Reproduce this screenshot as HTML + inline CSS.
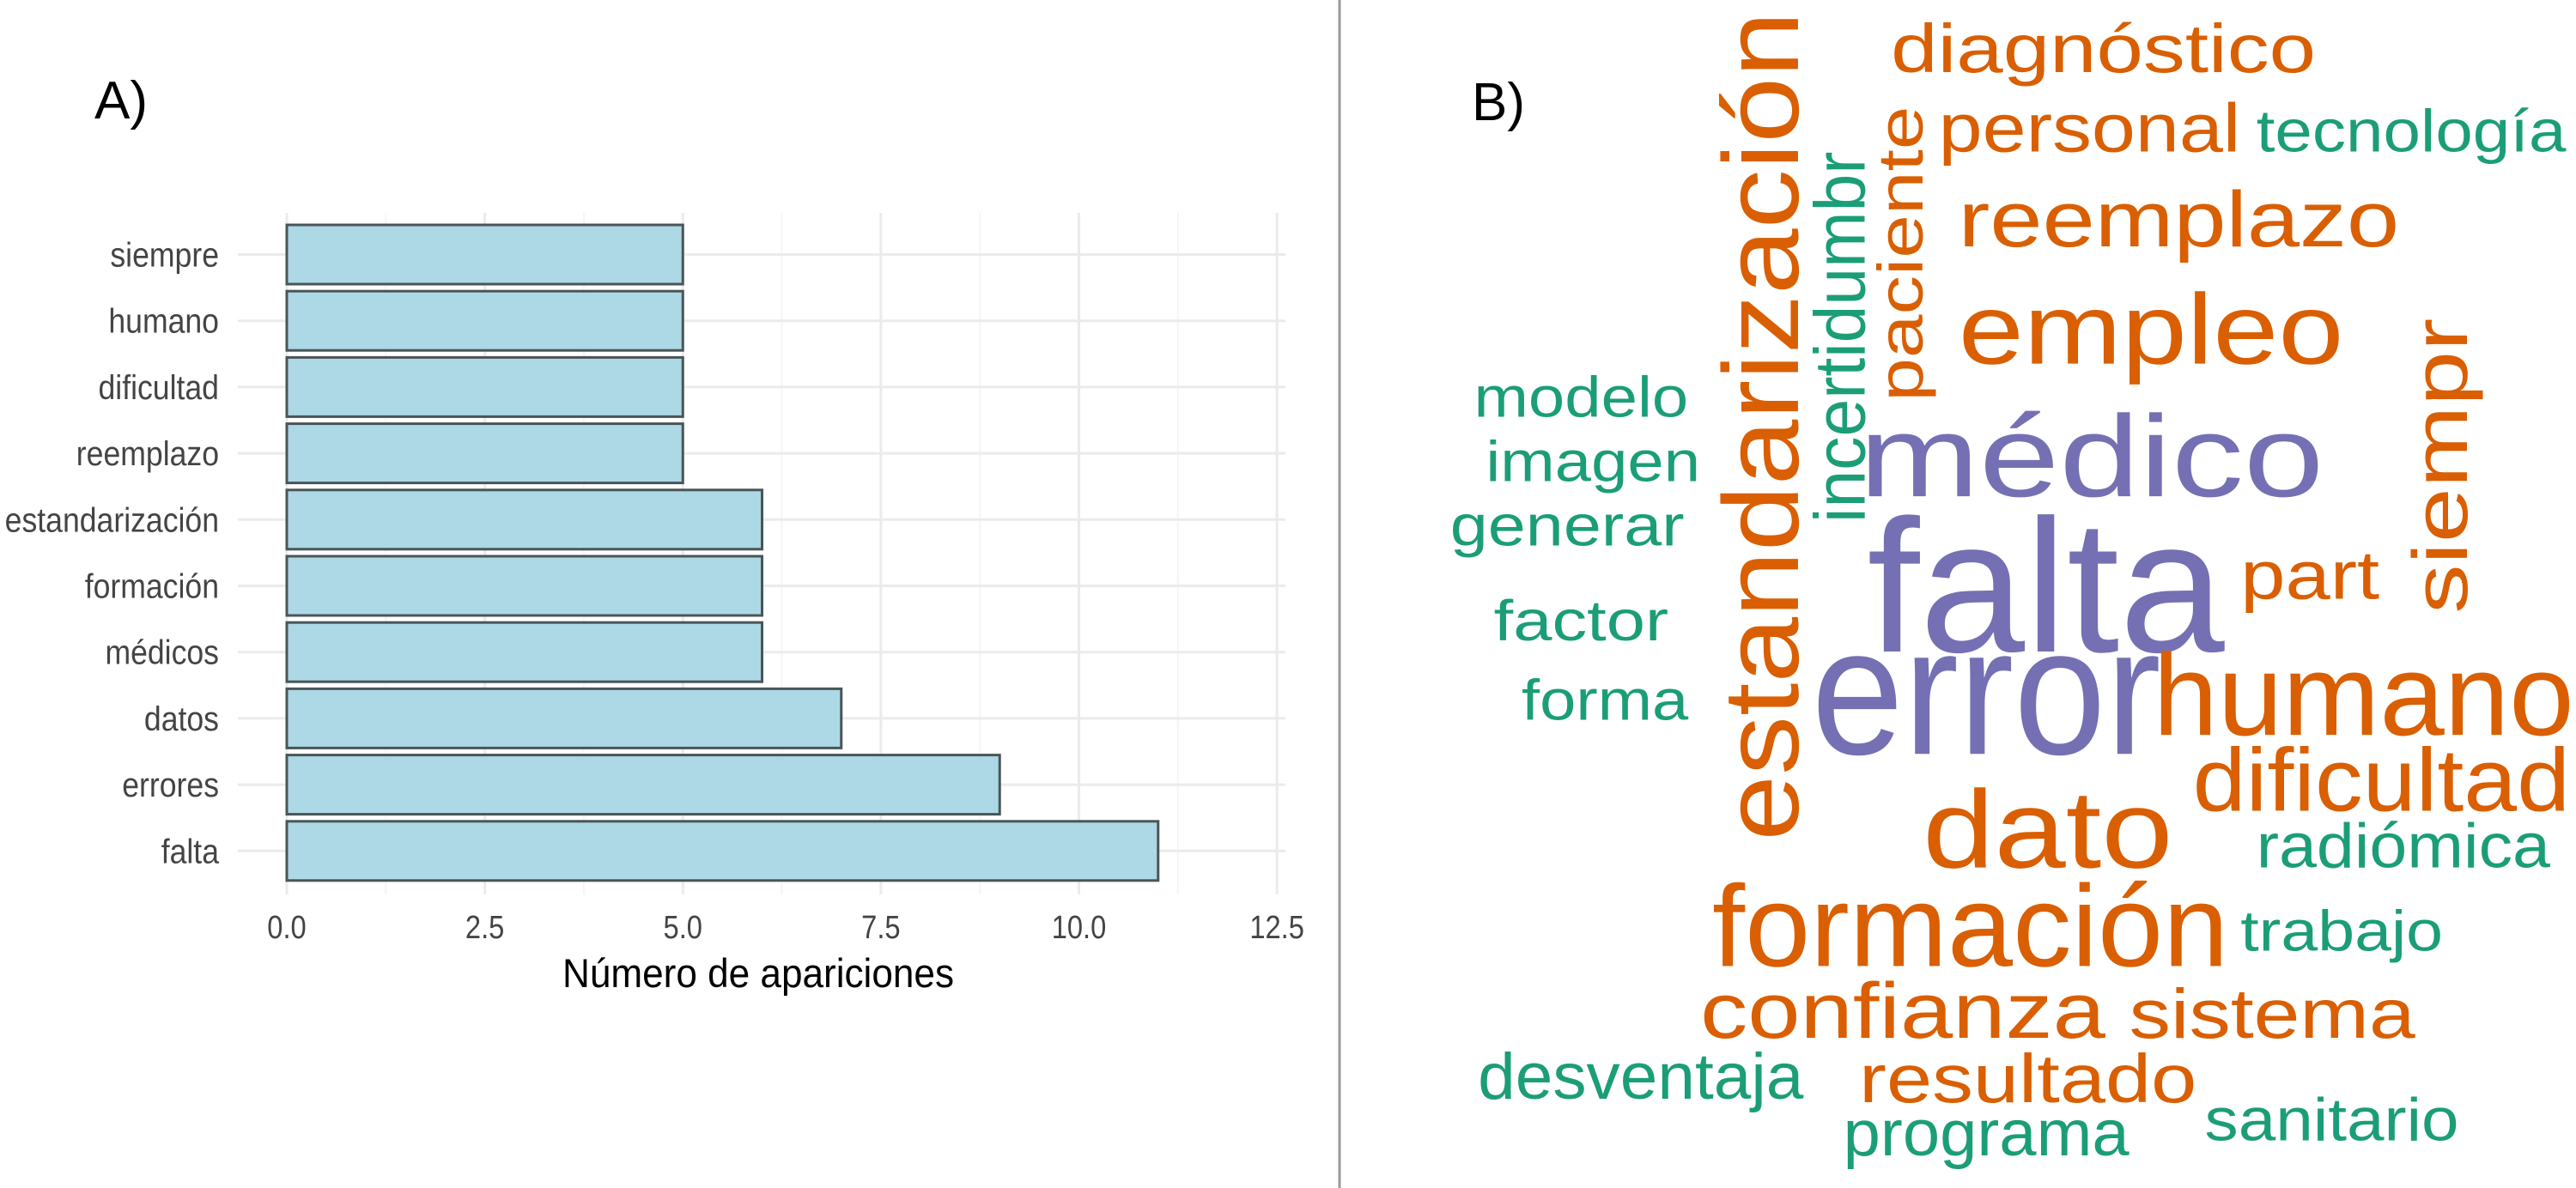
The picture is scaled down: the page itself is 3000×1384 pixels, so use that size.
<!DOCTYPE html>
<html><head><meta charset="utf-8"><style>
html,body{margin:0;padding:0;background:#fff;}
svg{display:block;}
</style></head><body>
<svg id="fig" xmlns="http://www.w3.org/2000/svg" width="3000" height="1384" viewBox="0 0 3000 1384" font-family="Liberation Sans, Arial, sans-serif">
<rect x="0" y="0" width="3000" height="1384" fill="#fff"/>
<text x="110" y="138" font-family="Liberation Sans, sans-serif" font-size="62" fill="#000">A)</text>
<text x="1714" y="140" font-family="Liberation Sans, sans-serif" font-size="62" fill="#000">B)</text>
<line x1="1560" y1="0" x2="1560" y2="1384" stroke="#9a9a9a" stroke-width="3"/>
<g id="grid"></g>
<g id="bars"></g>
<g id="ylabels"></g>
<g id="xlabels"></g>
<text x="883" y="1150" text-anchor="middle" font-size="47" fill="#000" textLength="456" lengthAdjust="spacingAndGlyphs">Número de apariciones</text>
<g id="cloud"></g>
</svg>
<script>
const categories = ["siempre","humano","dificultad","reemplazo","estandarización","formación","médicos","datos","errores","falta"];
const values = [5,5,5,5,6,6,6,7,9,11];
const tickValues = [0,2.5,5,7.5,10,12.5];
const tickLabels = ["0.0","2.5","5.0","7.5","10.0","12.5"];

const NS = "http://www.w3.org/2000/svg";
const X0 = 334, UNIT = 92.25;
const xScale = v => X0 + v * UNIT;
const BAND_TOP = 262, PITCH = 77.2, BAR_H = 69;
const yScale = i => BAND_TOP + i * PITCH;
const PANEL_L = 277, PANEL_R = 1497, PANEL_T = 248, PANEL_B = 1042;
function mk(tag, attrs, parent){const e=document.createElementNS(NS,tag);for(const k in attrs)e.setAttribute(k,attrs[k]);parent.appendChild(e);return e;}

const grid = document.getElementById('grid');
for (let v = 0; v <= 12.5 + 1e-9; v += 1.25) {
  const major = Math.abs(v/2.5 - Math.round(v/2.5)) < 1e-6;
  const l = mk('line',{x1:xScale(v),x2:xScale(v),y1:PANEL_T,y2:PANEL_B,stroke:major?'#ebebeb':'#f5f5f5','stroke-width':major?3:2},grid);
  
  
}
categories.forEach((c,i)=>{
  const cy = yScale(i) + BAR_H/2;
  const l = mk('line',{x1:PANEL_L,x2:PANEL_R,y1:cy,y2:cy,stroke:'#ebebeb','stroke-width':3},grid);
  
  
});
const bars = document.getElementById('bars');
values.forEach((v,i)=>{
  const r = mk('rect',{x:xScale(0),y:yScale(i),width:xScale(v)-xScale(0),height:BAR_H,fill:'#ADD8E6',stroke:'#4a5558','stroke-width':3},bars);
  
  
});
const yl = document.getElementById('ylabels');
categories.forEach((c,i)=>{
  const t = mk('text',{x:255,y:yScale(i)+BAR_H/2+14,'text-anchor':'end','font-size':40,fill:'#444'},yl);
  t.textContent = c;
  t.setAttribute('transform', `translate(255 0) scale(0.89 1) translate(-255 0)`);
  
  
});
const xl = document.getElementById('xlabels');
tickValues.forEach((v,i)=>{
  const x = xScale(v);
  const t = mk('text',{x:x,y:1093,'text-anchor':'middle','font-size':38,fill:'#444',transform:`translate(${x} 0) scale(0.86 1) translate(${-x} 0)`},xl);
  t.textContent = tickLabels[i];
  
  
});

// word cloud: [word, x0, x1, baseline, size, color, rotated]  (measured in zoom units)
const O='#D95F02', G='#1B9E77', P='#7570B3';
const words = [
 ["diagnóstico",705,1240,95,90,O,0],
 ["personal",765,1145,200,90,O,0],
 ["tecnología",1165,1555,200,79,G,0],
 ["reemplazo",790,1345,325,104,O,0],
 ["empleo",790,1275,480,132,O,0],
 ["médico",665,1250,655,153,P,0],
 ["falta",675,1125,860,250,P,0],
 ["error",605,1045,995,240,P,0],
 ["humano",1035,1565,970,153,O,0],
 ["dificultad",1085,1560,1070,118,O,0],
 ["dato",745,1060,1145,146,O,0],
 ["radiómica",1165,1535,1145,83,G,0],
 ["formación",480,1130,1275,153,O,0],
 ["trabajo",1145,1400,1255,76,G,0],
 ["confianza",465,975,1370,104,O,0],
 ["sistema",1005,1365,1370,92,O,0],
 ["resultado",665,1090,1455,90,O,0],
 ["desventaja",185,595,1450,86,G,0],
 ["sanitario",1100,1420,1505,80,G,0],
 ["programa",645,1005,1525,86,G,0],
 ["modelo",180,450,550,76,G,0],
 ["imagen",195,465,635,76,G,0],
 ["generar",150,445,720,77,G,0],
 ["factor",205,425,845,76,G,0],
 ["forma",240,450,950,76,G,0],
 ["part",1145,1320,790,90,O,0],
 ["estandarización",588,0,1110,135,O,1,15],
 ["incertidumbr",672,0,690,90,G,1,200],
 ["paciente",745,0,530,80,O,1,140],
 ["siempr",1430,0,810,97,O,1,420]
];
const FX=1.081, FY=1.133;
const cloud = document.getElementById('cloud');
words.forEach(w=>{
  let t;
  if(!w[6]){
    const x0=1550+w[1]/FX, x1=1550+w[2]/FX, y=w[3]/FY, s=w[4]/FY;
    t = mk('text',{x:x0,y:y,'font-size':s,fill:w[5],textLength:x1-x0,lengthAdjust:'spacingAndGlyphs'},cloud);
  } else {
    const bx=1550+w[1]/FX, by=w[3]/FY, ty=w[7]/FY, s=w[4]/FX;
    t = mk('text',{x:0,y:0,'font-size':s,fill:w[5],textLength:by-ty,lengthAdjust:'spacingAndGlyphs',transform:`translate(${bx} ${by}) rotate(-90)`},cloud);
  }
  t.textContent = w[0];
  
  
});
</script>
</body></html>
